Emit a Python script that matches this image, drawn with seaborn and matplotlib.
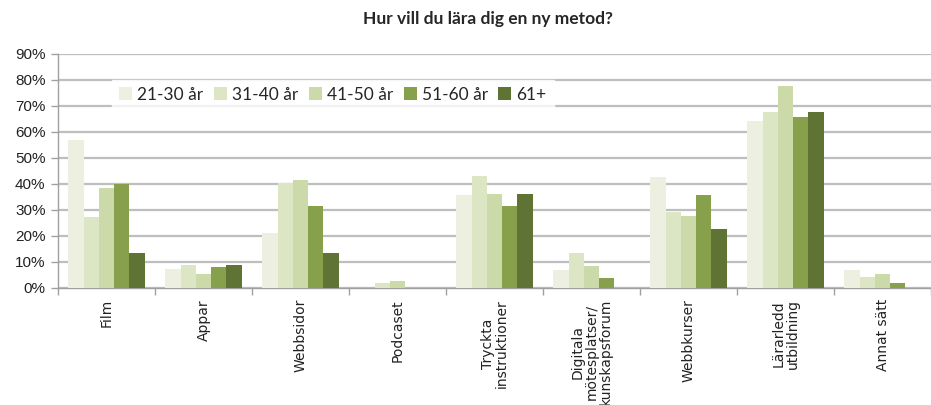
import pandas as pd
import matplotlib.pyplot as plt
import seaborn as sns

# Data
categories = ["Film", "Appar", "Webbsidor", "Podcaset", "Tryckta\ninstruktioner",
              "Digitala\nmötesplatser/\nkunskapsforum", "Webbkurser",
              "Lärarledd\nutbildning", "Annat sätt"]
age_groups = ["21-30 år", "31-40 år", "41-50 år", "51-60 år", "61+"]

v_21_30 = [0.57, 0.071, 0.212, 0.0, 0.356, 0.069, 0.425, 0.643, 0.069]
v_31_40 = [0.272, 0.09, 0.405, 0.019, 0.429, 0.134, 0.292, 0.677, 0.044]
v_41_50 = [0.386, 0.054, 0.416, 0.026, 0.36, 0.084, 0.276, 0.776, 0.054]
v_51_60 = [0.401, 0.08, 0.317, 0.0, 0.316, 0.04, 0.356, 0.658, 0.019]
v_61 = [0.134, 0.089, 0.134, 0.0, 0.36, 0.0, 0.228, 0.677, 0.0]

colors = ["#EDF0E1", "#DCE5C4", "#CCDAA9", "#86A04B", "#5F7334"]

series = [v_21_30, v_31_40, v_41_50, v_51_60, v_61]
df = pd.DataFrame({
    "Metod": categories * len(age_groups),
    "Ålder": [g for g in age_groups for _ in categories],
    "Andel": [v for s in series for v in s],
})

sns.set_style("white")
plt.rcParams["font.family"] = ["Liberation Sans", "DejaVu Sans"]

fig = plt.figure(figsize=(9.31, 4.05), dpi=100)
ax = fig.add_axes([0.0623, 0.289, 0.9377, 0.578])

sns.barplot(data=df, x="Metod", y="Andel", hue="Ålder", order=categories,
            hue_order=age_groups, palette=colors, width=0.79, saturation=1,
            linewidth=0, ax=ax, zorder=3)

ax.set_ylim(0, 0.9)
ax.set_xlim(-0.5, len(categories) - 0.5)
ax.set_yticks([i / 10 for i in range(10)])
ax.set_yticklabels([f"{i * 10}%" for i in range(10)], fontsize=11, color="#222222")
ax.yaxis.grid(True, color="#BEBEBE", linewidth=1.6, zorder=0)
ax.set_axisbelow(True)

ax.set_xticks(range(len(categories)))
ax.set_xticklabels(categories, rotation=90, fontsize=10, family="DejaVu Sans",
                   color="#222222", va="top", ha="center", linespacing=1.0)
ax.set_xticks([i - 0.5 for i in range(len(categories) + 1)], minor=True)
ax.tick_params(axis="x", which="major", length=0, pad=8)
ax.tick_params(axis="x", which="minor", length=5, width=1, color="#A0A0A0", bottom=True)
ax.tick_params(axis="y", length=5, width=1, color="#A0A0A0", left=True, pad=4)

ax.set_xlabel("")
ax.set_ylabel("")
for side in ["top", "right"]:
    ax.spines[side].set_visible(False)
for side in ["left", "bottom"]:
    ax.spines[side].set_color("#A0A0A0")
    ax.spines[side].set_linewidth(1)

leg = ax.legend(loc="center left", bbox_to_anchor=(0.052, 0.825), ncol=5,
                frameon=True, fancybox=False, handlelength=0.75, handleheight=0.75,
                handletextpad=0.3, columnspacing=0.6, borderpad=0.4,
                prop={"family": "Lato", "size": 12.5})
leg.get_frame().set_facecolor("white")
leg.get_frame().set_edgecolor("white")
leg.set_zorder(5)

fig.text(0.524, 0.952, "Hur vill du lära dig en ny metod?", ha="center", va="center",
         fontsize=12.5, fontweight="bold", family="Lato")

fig.savefig("out.png", dpi=100)
